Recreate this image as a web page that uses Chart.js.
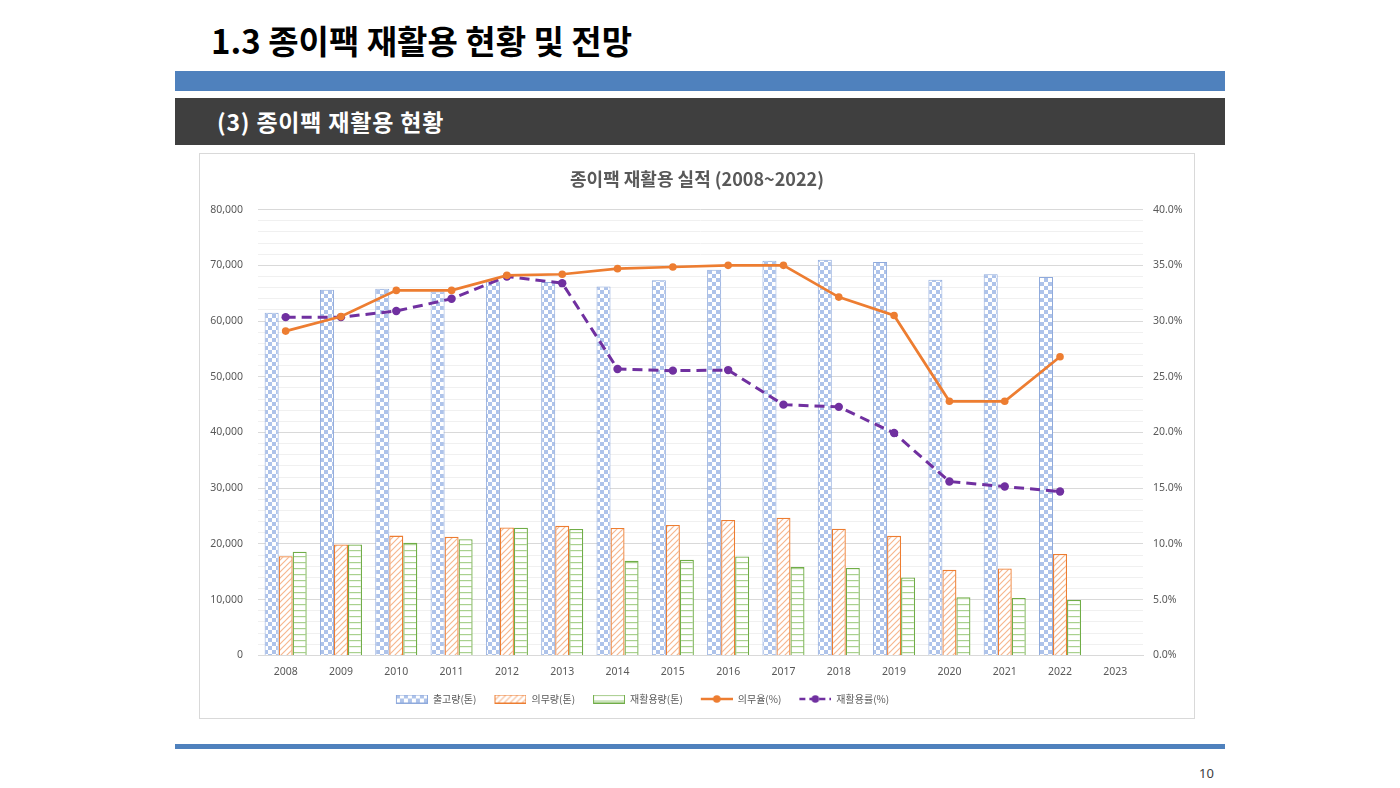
<!DOCTYPE html>
<html>
<head>
<meta charset="utf-8">
<script src="https://cdn.jsdelivr.net/npm/chart.js@4"></script>
<style>
  body { margin: 0; background: #fff; font-family: "Noto Sans CJK KR", "Noto Sans", sans-serif; }
  .page { position: relative; width: 1400px; height: 788px; overflow: hidden; }
  .title { position: absolute; left: 211px; top: 17px; font-size: 33px; font-weight: bold; color: #000; line-height: 46px; }
  .bar-blue { position: absolute; left: 175px; width: 1050px; top: 71px; height: 20px; background: #4f81bd; }
  .bar-dark { position: absolute; left: 175px; width: 1050px; top: 98px; height: 47px; background: #3f3f3f; }
  .subtitle { position: absolute; left: 217px; top: 103px; font-size: 23px; font-weight: bold; color: #fff; line-height: 36px; letter-spacing: 0.8px; }
  .chart-box { position: absolute; left: 199px; top: 153px; width: 994px; height: 564px; border: 1px solid #d9d9d9; background: #fff; }
  .bottom-line { position: absolute; left: 175px; width: 1050px; top: 744px; height: 5px; background: #4f81bd; }
  .pageno { position: absolute; left: 1199px; top: 764px; font-size: 13px; color: #404040; font-family: "Noto Sans", sans-serif; }
</style>
</head>
<body>
<div class="page">
  <div class="title">1.3 종이팩 재활용 현황 및 전망</div>
  <div class="bar-blue"></div>
  <div class="bar-dark"></div>
  <div class="subtitle">(3) 종이팩 재활용 현황</div>
  <div class="chart-box"><canvas id="chart" width="994" height="564"></canvas></div>
  <div class="bottom-line"></div>
  <div class="pageno">10</div>
</div>
<script>
// data
const years = ["2008", "2009", "2010", "2011", "2012", "2013", "2014", "2015", "2016", "2017", "2018", "2019", "2020", "2021", "2022", "2023"]
const shipped = [61500, 65600, 65800, 65300, 67100, 67000, 66200, 67300, 69200, 70800, 71000, 70600, 67400, 68400, 67900, null]
const obligation = [17800, 19900, 21500, 21300, 22950, 23250, 22850, 23400, 24300, 24700, 22750, 21450, 15350, 15600, 18200, null]
const recycled = [18600, 19900, 20200, 20850, 22900, 22700, 17000, 17150, 17750, 15850, 15700, 14000, 10450, 10300, 9950, null]
const obligationRate = [29.1, 30.4, 32.75, 32.75, 34.1, 34.2, 34.7, 34.85, 35.0, 35.0, 32.15, 30.5, 22.8, 22.8, 26.8, null]
const recycleRate = [30.35, 30.35, 30.9, 32.0, 34.0, 33.4, 25.7, 25.55, 25.6, 22.5, 22.3, 19.95, 15.6, 15.15, 14.7, null]

const textGray = "#595959"
const orange = "#ed7d31"
const purple = "#7030a0"

// little tiles for the Excel-style pattern fills
const makeTile = (w, h, draw) => {
  const c = document.createElement("canvas")
  c.width = w
  c.height = h
  const x = c.getContext("2d")
  x.fillStyle = "#fff"
  x.fillRect(0, 0, w, h)
  draw(x)
  return c
}
const tmp = document.createElement("canvas").getContext("2d")

const checkerTile = makeTile(8, 8, (x) => {
  x.fillStyle = "#aec3ea"
  x.fillRect(0, 0, 4, 4)
  x.fillRect(4, 4, 4, 4)
})
const hatchTile = makeTile(6, 6, (x) => {
  x.strokeStyle = "#f6b78f"
  x.lineWidth = 1.2
  x.beginPath()
  x.moveTo(0, 6); x.lineTo(6, 0)
  x.moveTo(-3, 3); x.lineTo(3, -3)
  x.moveTo(3, 9); x.lineTo(9, 3)
  x.stroke()
})
const stripeTile = makeTile(4, 6, (x) => {
  x.fillStyle = "#a9d18e"
  x.fillRect(0, 0, 4, 1.2)
})
const checkerFill = tmp.createPattern(checkerTile, "repeat")
const hatchFill = tmp.createPattern(hatchTile, "repeat")
const stripeFill = tmp.createPattern(stripeTile, "repeat")

// legend icons: blank strip on the left acts as the gap between legend items
const ICON_GAP = 13
const barIcon = (tile, border) => {
  const c = document.createElement("canvas")
  c.width = 32 + ICON_GAP
  c.height = 9
  const x = c.getContext("2d")
  x.translate(ICON_GAP, 0)
  x.fillStyle = x.createPattern(tile, "repeat")
  x.fillRect(0, 0, 32, 9)
  x.strokeStyle = border
  x.lineWidth = 1
  x.strokeRect(0.5, 0.5, 31, 8)
  return c
}
const lineIcon = (color, dash) => {
  const c = document.createElement("canvas")
  c.width = 32 + ICON_GAP
  c.height = 10
  const x = c.getContext("2d")
  x.translate(ICON_GAP, 0)
  x.strokeStyle = color
  x.lineWidth = 2.5
  x.setLineDash(dash)
  x.beginPath()
  x.moveTo(0, 5); x.lineTo(32, 5)
  x.stroke()
  x.fillStyle = color
  x.beginPath()
  x.arc(16, 5, 3.8, 0, Math.PI * 2)
  x.fill()
  return c
}
const legendIcons = [
  barIcon(checkerTile, "#8faadc"),
  barIcon(hatchTile, orange),
  barIcon(stripeTile, "#70ad47"),
  lineIcon(orange, []),
  lineIcon(purple, [6, 4]),
]

// the slide's legend sits left of centre
const legendShift = {
  id: "legendShift",
  afterLayout: (chart) => {
    chart.legend.left -= 61
    chart.legend.right -= 61
  },
}

new Chart(document.getElementById("chart"), {
  data: {
    labels: years,
    datasets: [
      {
        type: "bar", label: "출고량(톤)", data: shipped, yAxisID: "y",
        backgroundColor: checkerFill, borderColor: "#8faadc", borderWidth: 1, order: 2,
        categoryPercentage: 0.76, barPercentage: 1,
      },
      {
        type: "bar", label: "의무량(톤)", data: obligation, yAxisID: "y",
        backgroundColor: hatchFill, borderColor: orange, borderWidth: 1.3, order: 2,
        categoryPercentage: 0.76, barPercentage: 1,
      },
      {
        type: "bar", label: "재활용량(톤)", data: recycled, yAxisID: "y",
        backgroundColor: stripeFill, borderColor: "#70ad47", borderWidth: 1.3, order: 2,
        categoryPercentage: 0.76, barPercentage: 1,
      },
      {
        type: "line", label: "의무율(%)", data: obligationRate, yAxisID: "y1",
        borderColor: orange, backgroundColor: orange, borderWidth: 2.7,
        pointRadius: 3.8, pointBorderWidth: 0, tension: 0, order: 1,
      },
      {
        type: "line", label: "재활용률(%)", data: recycleRate, yAxisID: "y1",
        borderColor: purple, backgroundColor: purple, borderWidth: 3, borderDash: [10, 6],
        pointRadius: 4.2, pointBorderWidth: 0, tension: 0, order: 1,
      },
    ],
  },
  options: {
    responsive: false,
    animation: false,
    events: [],
    layout: { padding: { left: 0, right: 0, top: 0, bottom: 4 } },
    plugins: {
      title: {
        display: true,
        text: "종이팩 재활용 실적 (2008~2022)",
        color: textGray,
        font: { family: "'Noto Sans CJK KR'", size: 18, weight: "bold" },
        padding: { top: 14, bottom: 20 },
      },
      legend: {
        position: "bottom",
        labels: {
          usePointStyle: true,
          pointStyleWidth: 32 + ICON_GAP,
          padding: 5,
          color: textGray,
          font: { family: "'Noto Sans CJK KR'", size: 10 },
          generateLabels: (chart) =>
            chart.data.datasets.map((ds, i) => ({
              text: ds.label,
              pointStyle: legendIcons[i],
              fillStyle: "transparent",
              strokeStyle: "transparent",
              lineWidth: 0,
              fontColor: textGray,
              datasetIndex: i,
              hidden: false,
            })),
        },
      },
      tooltip: { enabled: false },
    },
    scales: {
      x: {
        grid: { display: false, drawTicks: false },
        border: { color: "#d9d9d9" },
        ticks: { color: textGray, font: { family: "'Noto Sans'", size: 10.5 }, padding: 10.5, maxRotation: 0 },
      },
      y: {
        position: "left",
        min: 0,
        max: 80000,
        grid: {
          drawTicks: false,
          color: (ctx) => (ctx.tick && ctx.tick.value % 10000 === 0 ? "#d9d9d9" : "#f0f0f0"),
        },
        border: { display: false },
        ticks: {
          stepSize: 2000,
          autoSkip: false,
          padding: 15,
          color: textGray,
          font: { family: "'Noto Sans'", size: 10.5 },
          callback: (v) => (v % 10000 === 0 ? v.toLocaleString("en-US") : ""),
        },
        afterFit: (scale) => { scale.width = 58 },
      },
      y1: {
        position: "right",
        min: 0,
        max: 40,
        grid: { display: false, drawTicks: false },
        border: { display: false },
        ticks: {
          stepSize: 5,
          padding: 10,
          color: textGray,
          font: { family: "'Noto Sans'", size: 10.5 },
          callback: (v) => v.toFixed(1) + "%",
        },
        afterFit: (scale) => { scale.width = 51 },
      },
    },
  },
  plugins: [legendShift],
})
</script>
</body>
</html>
